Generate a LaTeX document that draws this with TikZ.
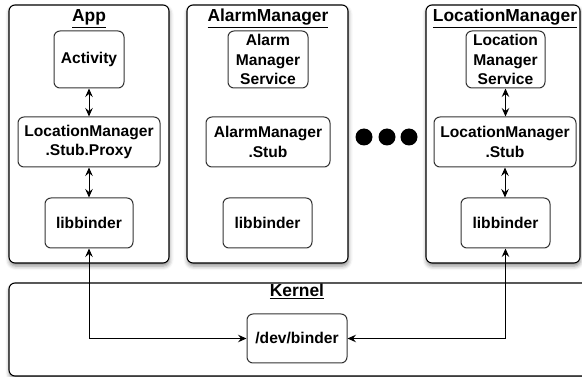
\documentclass[tikz,border=0pt]{standalone}
\usepackage{fontspec}
\setmainfont{Liberation Sans}
\usetikzlibrary{arrows.meta,shadows.blur}

\tikzset{
  outerbox/.style={draw=black, line width=1.1pt, rounded corners=6pt, fill=white,
    blur shadow={shadow xshift=0.5pt, shadow yshift=-3pt, shadow blur radius=4pt, shadow opacity=45}},
  inbox/.style={draw=black!80, line width=1pt, rounded corners=6pt, fill=white,
    align=center, inner sep=0pt,
    font=\fontsize{15.6}{19.5}\selectfont\bfseries},
  boxtitle/.style={anchor=base, inner sep=0pt, font=\fontsize{17.4}{20}\selectfont\bfseries},
  link/.style={line width=1pt, {Stealth[length=8.5pt,width=7.5pt,inset=3pt]}-{Stealth[length=8.5pt,width=7.5pt,inset=3pt]}},
  dot/.style={circle, fill=black, minimum size=17pt, inner sep=0pt}
}

\begin{document}
\begin{tikzpicture}[x=1pt, y=-1pt]
\useasboundingbox (0,0) rectangle (582,377);

% process containers and the kernel
\node[outerbox, minimum width=160pt, minimum height=258pt] (app)    at (89,134) {};
\node[outerbox, minimum width=161pt, minimum height=258pt] (alarm)  at (267.5,134) {};
\node[outerbox, minimum width=154pt, minimum height=258pt] (locmgr) at (503,134) {};
\node[outerbox, minimum width=581pt, minimum height=93pt]  (kernel) at (299.5,329.5) {};

% titles
\node[boxtitle] (tapp)    at (89,22)  {\underline{App}};
\node[boxtitle] (talarm)  at (268,22) {\underline{AlarmManager}};
\node[boxtitle] (tloc)    at (505,22) {\underline{LocationManager}};
\node[boxtitle] (tkernel) at (297,297) {\underline{Kernel}};

% App
\node[inbox, minimum width=70pt,  minimum height=57pt] (act)   at (89,59.5)  {Activity};
\node[inbox, minimum width=142pt, minimum height=50pt] (proxy) at (89,142)   {LocationManager\\.Stub.Proxy};
\node[inbox, minimum width=88pt,  minimum height=50pt] (alib)  at (89,223)   {libbinder};

% AlarmManager
\node[inbox, minimum width=80pt,  minimum height=57pt] (asvc)  at (268,59.5) {Alarm\\Manager\\Service};
\node[inbox, minimum width=124pt, minimum height=50pt] (astub) at (268,142)  {AlarmManager\\.Stub};
\node[inbox, minimum width=89pt,  minimum height=50pt] (blib)  at (267.5,223) {libbinder};

% LocationManager
\node[inbox, minimum width=79pt,  minimum height=57pt] (lsvc)  at (505.5,59.5) {Location\\Manager\\Service};
\node[inbox, minimum width=142pt, minimum height=50pt] (lstub) at (505,142)    {LocationManager\\.Stub};
\node[inbox, minimum width=89pt,  minimum height=50pt] (llib)  at (505.5,223)  {libbinder};

% Kernel
\node[inbox, minimum width=100pt, minimum height=49pt] (dev) at (297,338.5) {/dev/binder};

% ellipsis between the services
\node[dot] (d1) at (364,137) {};
\node[dot] (d2) at (387,137) {};
\node[dot] (d3) at (409,137) {};

% connectors
\draw[link] (act.south)   -- (act.south |- proxy.north);
\draw[link] (proxy.south) -- (proxy.south |- alib.north);
\draw[link] (lsvc.south)  -- (lsvc.south |- lstub.north);
\draw[link] (lstub.south) -- (lstub.south |- llib.north);
\draw[link] (alib.south) |- (dev.west);
\draw[link] (llib.south) |- (dev.east);
\end{tikzpicture}
\end{document}
